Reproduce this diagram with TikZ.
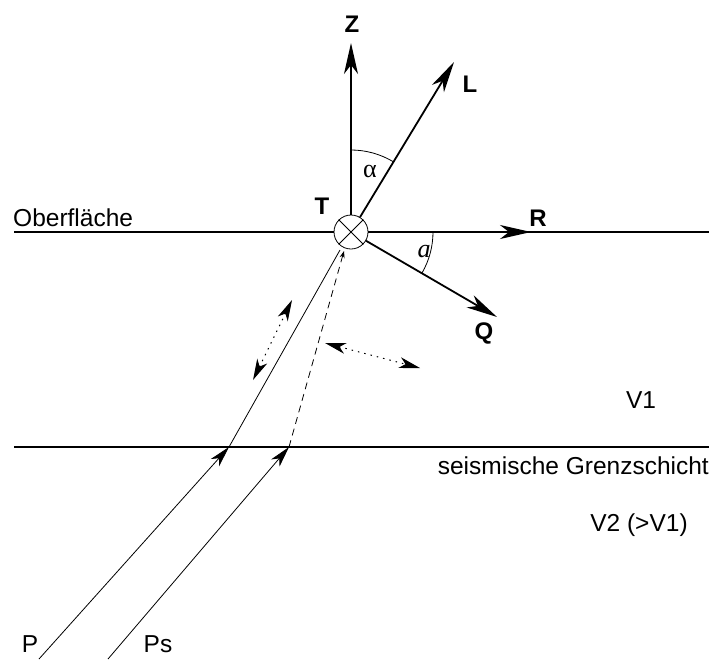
\documentclass[tikz,border=0pt]{standalone}
\usepackage{fontspec}
\setmainfont{Liberation Sans}
\newfontfamily\symfont{Liberation Serif}
\usetikzlibrary{arrows.meta,positioning,calc}
\tikzset{
  lbl/.style={inner sep=0pt,font=\fontsize{24.5}{28}\selectfont},
  axlbl/.style={lbl,font=\fontsize{24}{28}\selectfont\bfseries},
  anglbl/.style={inner sep=0pt,font=\fontsize{26}{30}\selectfont\symfont},
  layer/.style={line width=1.6pt},
  axis/.style={line width=1.8pt,-{Stealth[length=31pt,width=14pt,inset=9pt]}},
  ray/.style={line width=0.8pt},
  rayarr/.style={ray,-{Stealth[length=21pt,width=11pt,inset=6pt]}},
  pol/.style={line width=1pt,dash pattern=on 1.5pt off 5pt,{Stealth[length=21pt,width=11pt,inset=6pt]}-{Stealth[length=21pt,width=11pt,inset=6pt]}},
  sensor/.style={circle,draw,line width=0.8pt,fill=white,minimum size=34pt,inner sep=0pt},
}
\begin{document}
\begin{tikzpicture}[x=1pt,y=-1pt]
\useasboundingbox (0,0) rectangle (709,659);
% layers
\coordinate (surfL) at (14,232);
\coordinate (surfR) at (709,232);
\coordinate (intL) at (14,447);
\coordinate (intR) at (709,447);
\draw[layer] (surfL) -- (surfR);
\draw[layer] (intL) -- (intR);
\node[lbl,anchor=base west] (surf) at (13,226) {Oberfläche};
\node[lbl,anchor=base east] (grenz) at (709,474) {seismische Grenzschicht};
\node[lbl] (v1) at (641,400) {V1};
\node[lbl] (v2) at (639,525) {V2 (>V1)};
% rays
\coordinate (pbot) at (39,659);
\coordinate (pint) at (229,447);
\coordinate (psbot) at (108,659);
\coordinate (psint) at (289,447);
\coordinate (ptop) at (340,250);
\coordinate (pstop) at (344,251);
\draw[rayarr] (pbot) -- (pint);
\draw[rayarr] (psbot) -- (psint);
\draw[ray] (pint) -- (ptop);
\draw[ray,dash pattern=on 7pt off 5pt,-{Stealth[length=7pt,width=5pt]}] (psint) -- (pstop);
\node[lbl] (p) at (30,644) {P};
\node[lbl] (ps) at (158,644) {Ps};
% particle motion
\coordinate (pola) at (292,300);
\coordinate (polb) at (253,380);
\coordinate (polc) at (325,343);
\coordinate (pold) at (420,368);
\draw[pol] (polb) -- (pola);
\draw[pol] (polc) -- (pold);
% sensor and axes
\node[sensor] (t) at (351,232) {};
\draw[line width=0.8pt] (t.45) -- (t.225) (t.135) -- (t.-45);
\coordinate (ztip) at (351,43);
\coordinate (ltip) at (454,62);
\coordinate (rtip) at (531,232);
\coordinate (qtip) at (497,317);
\draw[axis] (t) -- (ztip);
\draw[axis] (t) -- (ltip);
\draw[axis] (t) -- (rtip);
\draw[axis] (t) -- (qtip);
\draw[line width=0.8pt] ($(t.center)+(0,-82)$) arc[start angle=-90,end angle=-58.8,radius=82];
\draw[line width=0.8pt] ($(t.center)+(82,0)$) arc[start angle=0,end angle=30.2,radius=82];
\node[axlbl] (z) at (352,24) {Z};
\node[axlbl] (l) at (470,84) {L};
\node[axlbl] (tl) at (322,206) {T};
\node[axlbl] (r) at (538,218) {R};
\node[axlbl] (q) at (484,333) {Q};
\node[anglbl] (alpha) at (370,171) {α};
\node[anglbl,font=\fontsize{26}{30}\selectfont\symfont\itshape] (a) at (424,252) {a};
\end{tikzpicture}
\end{document}
